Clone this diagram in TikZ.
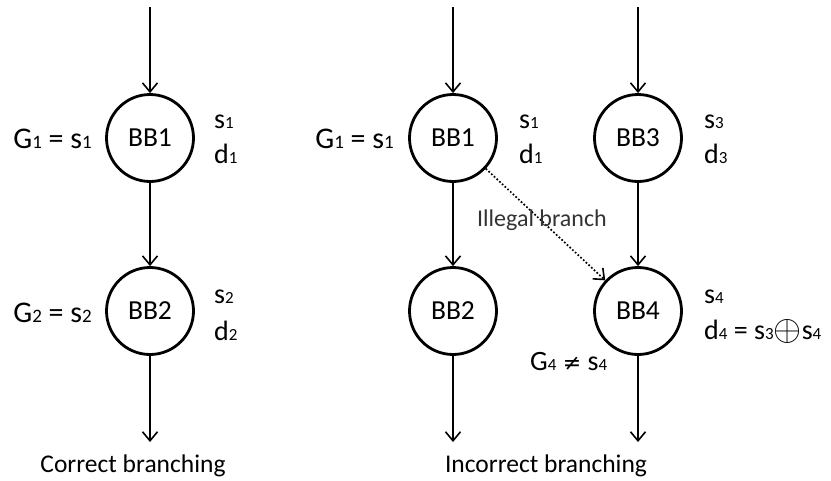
\documentclass[tikz,border=0pt]{standalone}
\usepackage{fontspec}
\setmainfont{Carlito}
\newfontfamily\symf{DejaVu Sans}
\usetikzlibrary{arrows.meta}
% small digit set on the baseline, used as an index
\newcommand\ix[1]{{\fontsize{17}{17}\selectfont #1}}
\newcommand\gix[1]{{\fontsize{19}{19}\selectfont #1}}
% thin circled plus, about as tall as a capital
\newcommand\xorop{\raisebox{-1.5pt}{\scalebox{1.45}{$\oplus$}}}
\tikzset{
  bb/.style={circle, draw, line width=2.8pt, minimum size=87pt, inner sep=0pt,
             font=\fontsize{27.5}{27.5}\selectfont},
  flow/.style={line width=1.6pt, -{Straight Barb[length=9pt,width=15pt,line width=1.6pt]}},
  illegal/.style={line width=1.7pt, dotted, -{Straight Barb[length=9pt,width=15pt,line width=1.6pt]}},
  lab/.style={inner sep=0pt, font=\fontsize{28}{28}\selectfont},
  glab/.style={inner sep=0pt, font=\fontsize{30}{30}\selectfont},
  captext/.style={inner sep=0pt, font=\fontsize{25.5}{25.5}\selectfont},
}
\begin{document}
\begin{tikzpicture}[x=1pt, y=-1pt]
\useasboundingbox (0,0) rectangle (831,480);

% ---- correct branching
\node[bb] (l1) at (150,138) {BB1};
\node[bb] (l2) at (150,311) {BB2};
\coordinate (lt) at (150,7);
\coordinate (lb) at (150,442);
\draw[flow] (lt) -- (l1);
\draw[flow] (l1) -- (l2);
\draw[flow] (l2) -- (lb);

\node[glab, anchor=base east] (lg1) at (92,148) {G\gix{1} = s\gix{1}};
\node[lab, anchor=base west] (ls1) at (214,128) {s\ix{1}};
\node[lab, anchor=base west] (ld1) at (214,163) {d\ix{1}};
\node[glab, anchor=base east] (lg2) at (92,322) {G\gix{2} = s\gix{2}};
\node[lab, anchor=base west] (ls2) at (214,303) {s\ix{2}};
\node[lab, anchor=base west] (ld2) at (214,340) {d\ix{2}};
\node[captext] (lcap) at (133,466) {Correct branching};

% ---- incorrect branching
\node[bb] (m1) at (453,138) {BB1};
\node[bb] (m2) at (453,311) {BB2};
\node[bb] (r3) at (638,138) {BB3};
\node[bb] (r4) at (638,311) {BB4};
\coordinate (mt) at (453,7);
\coordinate (mb) at (453,442);
\coordinate (rt) at (638,7);
\coordinate (rb) at (638,442);
\draw[flow] (mt) -- (m1);
\draw[flow] (m1) -- (m2);
\draw[flow] (m2) -- (mb);
\draw[flow] (rt) -- (r3);
\draw[flow] (r3) -- (r4);
\draw[flow] (r4) -- (rb);
\draw[illegal] (m1) -- (r4);
\node[captext, text=black!80, font=\fontsize{24}{24}\selectfont] (ill) at (542,220) {Illegal branch};

\node[glab, anchor=base east] (mg1) at (394,148) {G\gix{1} = s\gix{1}};
\node[lab, anchor=base west] (ms1) at (519,128) {s\ix{1}};
\node[lab, anchor=base west] (md1) at (519,163) {d\ix{1}};
\node[lab, anchor=base west] (rs3) at (704,128) {s\ix{3}};
\node[lab, anchor=base west] (rd3) at (704,163) {d\ix{3}};
\node[lab, anchor=base west] (rs4) at (704,303) {s\ix{4}};
\node[lab, anchor=base west] (rd4) at (704,339) {d\ix{4} = s\ix{3}\xorop s\ix{4}};
\node[lab, anchor=base west] (rg4) at (530,370) {G\ix{4} {\symf\fontsize{22}{22}\selectfont ≠} s\ix{4}};
\node[captext] (mcap) at (546,466) {Incorrect branching};
\end{tikzpicture}
\end{document}
